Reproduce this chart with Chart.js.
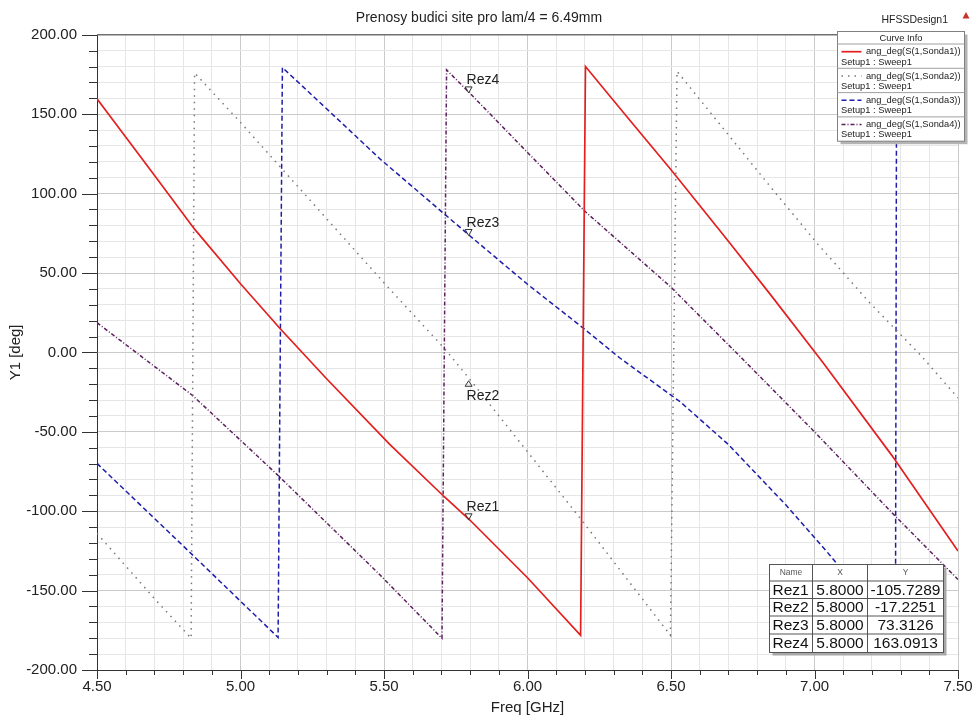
<!DOCTYPE html>
<html>
<head>
<meta charset="utf-8">
<title>Prenosy budici site</title>
<script src="https://cdn.jsdelivr.net/npm/chart.js@4.4.1/dist/chart.umd.min.js"></script>
<style>
body{margin:0;background:#fff;}
canvas{display:block;}
</style>
</head>
<body>
<canvas id="phaseChart" width="976" height="717"></canvas>
<script>
// phase of S(1,SondaN) in degrees vs frequency in GHz

const s1Freq = [4.50, 4.60, 4.70, 4.84, 5.00, 5.14, 5.30, 5.52, 5.71, 5.80, 6.00, 6.185, 6.202, 6.35, 6.50, 6.70, 6.85, 7.03, 7.27, 7.50];
const s1Deg  = [159.7, 135.6, 111.5, 77.6, 43.2, 14.6, -16.6, -57.9, -90.9, -105.7, -141.9, -178.1, 180.0, 147.6, 115.0, 70.0, 35.6, -6.5, -65.0, -125.0];

const s2Freq = [4.50, 4.70, 4.828, 4.840, 5.00, 5.20, 5.51, 5.71, 5.80, 6.00, 6.184, 6.35, 6.498, 6.521, 6.70, 6.846, 7.009, 7.194, 7.369, 7.50];
const s2Deg  = [-114.0, -155.0, -180.0, 176.0, 144.8, 104.4, 41.8, 2.6, -17.2, -62.6, -104.5, -143.5, -178.1, 177.0, 137.0, 104.4, 68.7, 30.9, -1.6, -28.7];

const s3Freq = [4.50, 4.831, 5.131, 5.146, 5.30, 5.487, 5.714, 5.80, 6.00, 6.195, 6.323, 6.532, 6.70, 6.90, 7.055, 7.15, 7.282, 7.286, 7.50];
const s3Deg  = [-69.9, -127.2, -179.5, 179.4, 153.4, 121.7, 86.6, 73.3, 42.9, 15.2, -3.7, -31.1, -58.0, -96.0, -128.0, -149.0, -180.0, 179.0, 138.0];

const s4Freq = [4.50, 4.831, 5.127, 5.487, 5.702, 5.718, 5.80, 6.00, 6.201, 6.498, 6.753, 7.00, 7.27, 7.50];
const s4Deg  = [18.7, -26.8, -76.8, -140.3, -180.0, 177.9, 163.1, 125.9, 88.7, 41.4, -4.8, -50.0, -101.0, -143.0];

const seriesNames = ['ang_deg(S(1,Sonda1))', 'ang_deg(S(1,Sonda2))', 'ang_deg(S(1,Sonda3))', 'ang_deg(S(1,Sonda4))'];

// markers
const markerNames = ['Rez1', 'Rez2', 'Rez3', 'Rez4'];
const markerFreq  = [5.8, 5.8, 5.8, 5.8];
const markerDeg   = [-105.7289, -17.2251, 73.3126, 163.0913];

const pts = (fx, fy) => fx.map((f, i) => ({x: f, y: fy[i]}));
const isMajorX = v => Math.round(v * 10) % 5 === 0;
const isMajorY = v => Math.round(v) % 50 === 0;

Chart.defaults.font.family = '"Liberation Sans", Arial, sans-serif';
Chart.defaults.color = '#222';

// ticks, markers, curve info box and marker table
const hfssDecor = {
  id: 'hfssDecor',
  afterDatasetsDraw(chart) {
    const {ctx, chartArea: a, scales: {x, y}} = chart;
    ctx.save();

    // top frame
    ctx.strokeStyle = '#707070';
    ctx.lineWidth = 1.5;
    ctx.beginPath(); ctx.moveTo(a.left, a.top); ctx.lineTo(a.right, a.top); ctx.stroke();

    // tick marks
    ctx.strokeStyle = '#333';
    ctx.lineWidth = 1;
    y.ticks.forEach(t => {
      const py = Math.round(y.getPixelForValue(t.value)) + 0.5;
      const len = isMajorY(t.value) ? 15 : 8;
      ctx.beginPath(); ctx.moveTo(a.left - len, py); ctx.lineTo(a.left, py); ctx.stroke();
    });
    x.ticks.forEach(t => {
      const px = Math.round(x.getPixelForValue(t.value)) + 0.5;
      const len = isMajorX(t.value) ? 9 : 5;
      ctx.beginPath(); ctx.moveTo(px, a.bottom); ctx.lineTo(px, a.bottom + len); ctx.stroke();
    });

    // marker triangles + names
    ctx.font = '14px "Liberation Sans", Arial';
    ctx.textAlign = 'left';
    ctx.textBaseline = 'alphabetic';
    markerNames.forEach((name, i) => {
      const px = x.getPixelForValue(markerFreq[i]) - 1.5;
      const py = y.getPixelForValue(markerDeg[i]);
      const up = i === 1;
      ctx.strokeStyle = '#333';
      ctx.beginPath();
      if (up) {
        ctx.moveTo(px, py + 1); ctx.lineTo(px - 3.5, py + 6.5); ctx.lineTo(px + 3.5, py + 6.5);
      } else {
        ctx.moveTo(px, py - 0.5); ctx.lineTo(px - 3.5, py - 6.5); ctx.lineTo(px + 3.5, py - 6.5);
      }
      ctx.closePath();
      ctx.stroke();
      ctx.fillStyle = '#222';
      ctx.fillText(name, px - 2, up ? py + 20 : py - 9);
    });

    // HFSSDesign1 heading
    ctx.font = '10.5px "Liberation Sans", Arial';
    ctx.textAlign = 'right';
    ctx.textBaseline = 'middle';
    ctx.fillStyle = '#222';
    ctx.fillText('HFSSDesign1', 948, 20);
    ctx.fillStyle = '#c8322d';
    ctx.beginPath(); ctx.moveTo(966, 12); ctx.lineTo(969.5, 18.5); ctx.lineTo(962.5, 18.5); ctx.closePath(); ctx.fill();

    // curve info box
    const lx = 837.5, ly = 31.5, lw = 127, hh = 12.5, eh = 24.3;
    const lh = hh + eh * chart.data.datasets.length;
    ctx.fillStyle = '#b4b4b4';
    ctx.fillRect(lx + 3, ly + 3, lw, lh);
    ctx.fillStyle = '#fff';
    ctx.fillRect(lx, ly, lw, lh);
    ctx.strokeStyle = '#808080';
    ctx.lineWidth = 1;
    ctx.strokeRect(lx, ly, lw, lh);
    ctx.fillStyle = '#222';
    ctx.font = '9.3px "Liberation Sans", Arial';
    ctx.textAlign = 'center';
    ctx.fillText('Curve Info', lx + lw / 2, ly + hh / 2 + 0.5);
    chart.data.datasets.forEach((ds, i) => {
      const top = ly + hh + i * eh;
      ctx.strokeStyle = '#a0a0a0';
      ctx.setLineDash([]);
      ctx.beginPath(); ctx.moveTo(lx, top); ctx.lineTo(lx + lw, top); ctx.stroke();
      ctx.strokeStyle = ds.borderColor;
      ctx.lineWidth = ds.borderWidth;
      ctx.setLineDash(ds.borderDash || []);
      ctx.beginPath(); ctx.moveTo(lx + 4, top + 7.7); ctx.lineTo(lx + 24, top + 7.7); ctx.stroke();
      ctx.setLineDash([]);
      ctx.lineWidth = 1;
      ctx.fillStyle = '#222';
      ctx.textAlign = 'right';
      ctx.fillText(ds.label, lx + lw - 4, top + 7.7);
      ctx.textAlign = 'left';
      ctx.fillText('Setup1 : Sweep1', lx + 3.5, top + 18);
    });

    // marker table
    const cols = [769.5, 812.5, 867.5, 943.5];
    const rows = [564.5, 581, 598.5, 616, 634, 652.5];
    ctx.fillStyle = '#a8a8a8';
    ctx.fillRect(cols[0] + 3, rows[0] + 3, cols[3] - cols[0], rows[5] - rows[0]);
    ctx.fillStyle = '#fff';
    ctx.fillRect(cols[0], rows[0], cols[3] - cols[0], rows[5] - rows[0]);
    ctx.strokeStyle = '#555';
    ctx.lineWidth = 1;
    ctx.strokeRect(cols[0], rows[0], cols[3] - cols[0], rows[5] - rows[0]);
    ctx.beginPath();
    cols.slice(1, 3).forEach(c => { ctx.moveTo(c, rows[0]); ctx.lineTo(c, rows[5]); });
    rows.slice(1, 5).forEach(r => { ctx.moveTo(cols[0], r); ctx.lineTo(cols[3], r); });
    ctx.stroke();
    ctx.textAlign = 'center';
    ctx.textBaseline = 'middle';
    ctx.fillStyle = '#555';
    ctx.font = '8.5px "Liberation Sans", Arial';
    ['Name', 'X', 'Y'].forEach((h, c) => ctx.fillText(h, (cols[c] + cols[c + 1]) / 2, (rows[0] + rows[1]) / 2));
    ctx.fillStyle = '#111';
    ctx.font = '15.5px "Liberation Sans", Arial';
    markerNames.forEach((name, i) => {
      const cy = (rows[i + 1] + rows[i + 2]) / 2 + 0.5;
      ctx.textAlign = 'left';
      ctx.fillText(name, cols[0] + 3, cy);
      ctx.textAlign = 'center';
      ctx.fillText(markerFreq[i].toFixed(4), (cols[1] + cols[2]) / 2, cy);
      ctx.fillText(markerDeg[i].toFixed(4), (cols[2] + cols[3]) / 2, cy);
    });

    ctx.restore();
  }
};

new Chart(document.getElementById('phaseChart'), {
  type: 'line',
  data: {
    datasets: [
      {label: seriesNames[0], data: pts(s1Freq, s1Deg), borderColor: '#e3201f', borderWidth: 1.7, borderDash: []},
      {label: seriesNames[1], data: pts(s2Freq, s2Deg), borderColor: '#7d727d', borderWidth: 1.5, borderDash: [1.5, 5]},
      {label: seriesNames[2], data: pts(s3Freq, s3Deg), borderColor: '#1e1eaa', borderWidth: 1.5, borderDash: [5, 3]},
      {label: seriesNames[3], data: pts(s4Freq, s4Deg), borderColor: '#5c1f5e', borderWidth: 1.5, borderDash: [4, 2, 1, 2]}
    ]
  },
  options: {
    responsive: false,
    animation: false,
    events: [],
    elements: {point: {radius: 0}, line: {tension: 0, fill: false}},
    layout: {padding: {top: 0, right: 18, bottom: 0, left: 0}},
    plugins: {
      legend: {display: false},
      tooltip: {enabled: false},
      title: {
        display: true,
        text: 'Prenosy budici site pro lam/4 = 6.49mm',
        font: {size: 14, weight: 'normal'},
        color: '#222',
        padding: {top: 10, bottom: 8}
      }
    },
    scales: {
      x: {
        type: 'linear',
        min: 4.5,
        max: 7.5,
        afterFit: s => { s.height = 47; s.paddingLeft = 0; s.paddingRight = 0; },
        ticks: {
          stepSize: 0.1,
          autoSkip: false,
          maxRotation: 0,
          minRotation: 0,
          padding: 8,
          font: {size: 15},
          color: '#222',
          callback: v => (isMajorX(v) ? v.toFixed(2) : '')
        },
        grid: {
          drawTicks: false,
          color: c => (c.tick && isMajorX(c.tick.value) ? '#cacaca' : '#e6e6e6')
        },
        border: {color: '#333', width: 1},
        title: {display: true, text: 'Freq [GHz]', font: {size: 15}, color: '#222', padding: {top: 2, bottom: 0}}
      },
      y: {
        min: -200,
        max: 200,
        afterFit: s => { s.width = 97; },
        ticks: {
          stepSize: 10,
          autoSkip: false,
          padding: 20,
          font: {size: 15},
          color: '#222',
          callback: v => (isMajorY(v) ? v.toFixed(2) : '')
        },
        grid: {
          drawTicks: false,
          color: c => (c.tick && isMajorY(c.tick.value) ? '#cacaca' : '#e6e6e6')
        },
        border: {color: '#333', width: 1},
        title: {display: true, text: 'Y1 [deg]', font: {size: 15}, color: '#222', padding: {top: 7, bottom: 0}}
      }
    }
  },
  plugins: [hfssDecor]
});
</script>
</body>
</html>
